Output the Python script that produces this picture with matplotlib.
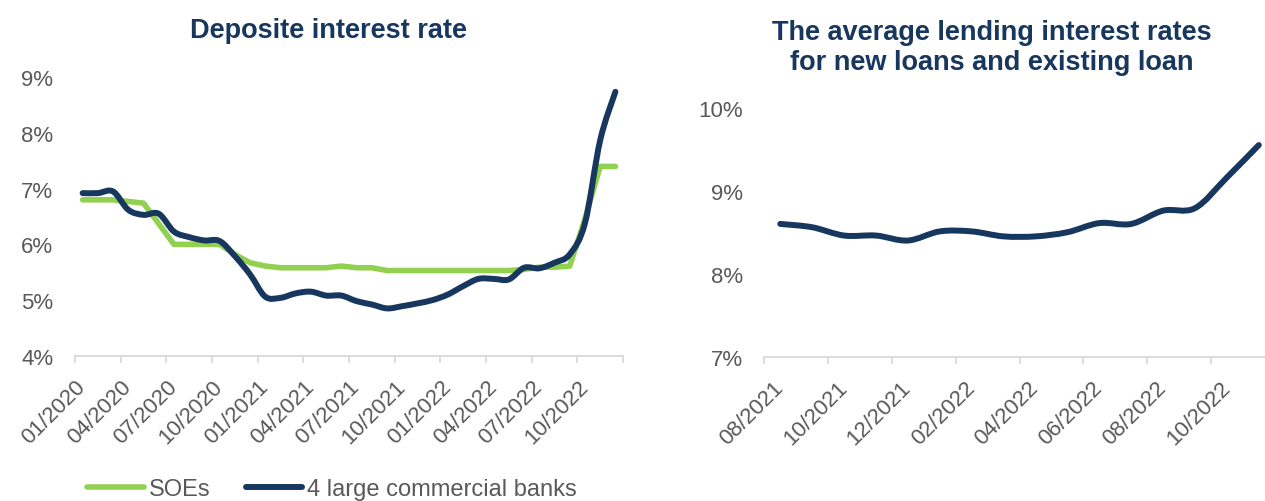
"""Deposit rate vs lending rate — two panel line chart
run: python plot.py  -> out.png
"""
import matplotlib
matplotlib.use("Agg")
import matplotlib.pyplot as plt
import numpy as np
from matplotlib.path import Path
from matplotlib.patches import PathPatch
from matplotlib.lines import Line2D

plt.rcParams["font.family"] = ["Liberation Sans", "DejaVu Sans"]
NAVY = "#17375E"
GREEN = "#92D050"
GREY = "#595959"
AXIS = "#D9D9D9"

# left panel: monthly 01/2020 .. 12/2022, %
dep_ticklabels = ["01/2020", "04/2020", "07/2020", "10/2020", "01/2021", "04/2021",
                  "07/2021", "10/2021", "01/2022", "04/2022", "07/2022", "10/2022"]
soe = [6.80, 6.80, 6.80, 6.77, 6.74, 6.37, 6.00, 6.00, 6.00, 6.00, 5.82, 5.67,
       5.61, 5.58, 5.58, 5.58, 5.58, 5.61, 5.58, 5.58, 5.53, 5.53, 5.53, 5.53,
       5.53, 5.53, 5.53, 5.53, 5.53, 5.55, 5.59, 5.59, 5.61, 6.46, 7.40, 7.40]
big4 = [6.92, 6.92, 6.95, 6.62, 6.53, 6.55, 6.23, 6.13, 6.07, 6.06, 5.79, 5.46,
        5.06, 5.04, 5.12, 5.15, 5.08, 5.08, 4.98, 4.92, 4.85, 4.89, 4.94, 5.00,
        5.10, 5.25, 5.38, 5.38, 5.37, 5.58, 5.57, 5.67, 5.82, 6.38, 7.87, 8.74]

# right panel: monthly 08/2021 .. 11/2022, %
lend_ticklabels = ["08/2021", "10/2021", "12/2021", "02/2022",
                   "04/2022", "06/2022", "08/2022", "10/2022"]
lend = [8.60, 8.56, 8.46, 8.46, 8.40, 8.51, 8.51, 8.45,
        8.45, 8.50, 8.61, 8.60, 8.76, 8.79, 9.16, 9.55]


def smooth_path(ys):
    # excel-like "smoothed line": catmull-rom segments as cubic beziers
    p = np.column_stack([np.arange(len(ys)), ys]).astype(float)
    n = len(p)
    verts, codes = [p[0]], [Path.MOVETO]
    for i in range(n - 1):
        p0, p1, p2, p3 = p[max(i - 1, 0)], p[i], p[i + 1], p[min(i + 2, n - 1)]
        verts += [p1 + (p2 - p0) / 6, p2 - (p3 - p1) / 6, p2]
        codes += [Path.CURVE4] * 3
    return Path(verts, codes)


def style(ax, n, step, labels, ylo, yhi):
    for s in ("left", "right", "top"):
        ax.spines[s].set_visible(False)
    ax.spines["bottom"].set_color(AXIS)
    ax.spines["bottom"].set_linewidth(1.3)
    ax.set_xlim(-0.5, n - 0.5)
    ax.set_ylim(ylo, yhi)
    ax.set_yticks(np.arange(ylo, yhi + 0.5))
    ax.set_yticklabels([f"{v:.0f}%" for v in np.arange(ylo, yhi + 0.5)])
    ax.tick_params(axis="y", length=0, pad=15.5, labelsize=16, labelcolor=GREY)
    ax.set_xticks(np.arange(0, n, step))
    ax.set_xticklabels(labels, rotation=45, ha="right", va="center", rotation_mode="anchor")
    ax.set_xticks(np.arange(-0.5, n, step), minor=True)
    ax.tick_params(axis="x", which="major", length=0, pad=20, labelsize=16, labelcolor=GREY)
    ax.tick_params(axis="x", which="minor", length=5, width=1.3, color=AXIS)


fig = plt.figure(figsize=(12.65, 5.02), dpi=100)

ax1 = fig.add_axes([0.0593, 0.2894, 0.4332, 0.5546])
ax1.plot(range(len(soe)), soe, color=GREEN, lw=4, solid_capstyle="round", zorder=2)
ax1.add_patch(PathPatch(smooth_path(big4), fill=False, edgecolor=NAVY, lw=4.3,
                        capstyle="round", joinstyle="round", zorder=3))
style(ax1, len(soe), 3, dep_ticklabels, 4, 9)

ax2 = fig.add_axes([0.6042, 0.2874, 0.4035, 0.4960])
ax2.add_patch(PathPatch(smooth_path(lend), fill=False, edgecolor=NAVY, lw=4.3,
                        capstyle="round", joinstyle="round", zorder=3))
style(ax2, len(lend), 2, lend_ticklabels, 7, 10)

fig.text(0.2593, 0.938, "Deposite interest rate", ha="center", va="center",
         fontsize=19.5, fontweight="bold", color=NAVY)
fig.text(0.784, 0.905, "The average lending interest rates\nfor new loans and existing loan",
         ha="center", va="center", fontsize=19.5, fontweight="bold", color=NAVY, linespacing=1.2)

handles = [Line2D([], [], color=GREEN, lw=4, solid_capstyle="round"),
           Line2D([], [], color=NAVY, lw=4.3, solid_capstyle="round")]
fig.legend(handles, ["SOEs", "4 large commercial banks"], loc="center left",
           bbox_to_anchor=(0.069, 0.024), ncol=2, frameon=False, fontsize=17,
           labelcolor=GREY, handlelength=2.4, handletextpad=0.2, columnspacing=1.5,
           borderpad=0, borderaxespad=0)

fig.savefig("out.png", dpi=100)
